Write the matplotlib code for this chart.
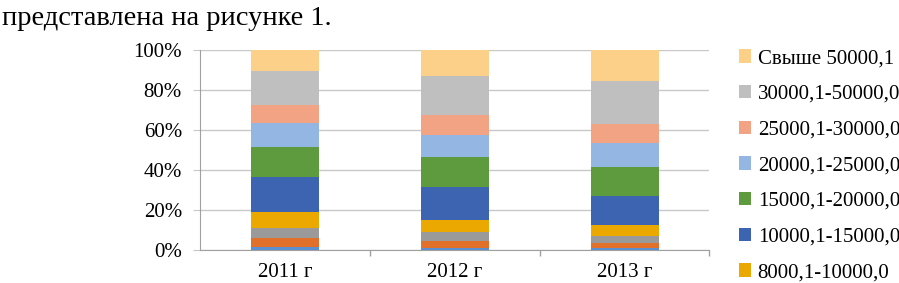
import matplotlib.pyplot as plt
import numpy as np

plt.rcParams['font.family'] = ['Liberation Serif', 'DejaVu Serif']

# shares of workers by wage group, %, bottom to top of each bar
years = ['2011 г', '2012 г', '2013 г']
groups = ['до 5000,0', '5000,1-6000,0', '6000,1-8000,0', '8000,1-10000,0',
          '10000,1-15000,0', '15000,1-20000,0', '20000,1-25000,0',
          '25000,1-30000,0', '30000,1-50000,0', 'Свыше 50000,1']
shares = [
    [1.7, 1.2, 1.0],
    [4.1, 3.5, 2.3],
    [5.4, 4.1, 3.7],
    [7.6, 6.2, 5.5],
    [17.9, 16.3, 14.7],
    [15.0, 15.0, 14.5],
    [11.6, 11.2, 11.6],
    [9.2, 10.0, 9.7],
    [17.2, 19.7, 21.7],
    [10.3, 12.8, 15.3],
]
colors = ['#5B8FCF', '#E0702A', '#9A9A9A', '#EBA900', '#3C64B0',
          '#5E9A3E', '#94B6E2', '#F2A383', '#BFBFBF', '#FDD08A']

fig = plt.figure(figsize=(8.99, 2.83), dpi=100)
ax = fig.add_axes([0.2225, 0.1166, 0.5667, 0.7067])

x = np.arange(len(years))
bottom = np.zeros(len(years))
bars = []
for name, vals, c in zip(groups, shares, colors):
    vals = np.array(vals)
    b = ax.bar(x, vals, 0.4, bottom=bottom, color=c, label=name, zorder=3)
    bars.append(b)
    bottom += vals

ax.set_xlim(-0.5, 2.5)
ax.set_ylim(0, 100)
ax.set_yticks(range(0, 101, 20))
ax.set_yticklabels([f'{v}%' for v in range(0, 101, 20)])
ax.yaxis.grid(True, color='#C8C8C8', linewidth=1, zorder=0)
ax.set_xticks(x)
ax.set_xticklabels(years)
ax.set_xticks([0.5, 1.5, 2.5], minor=True)
ax.tick_params(axis='x', which='major', length=0, pad=9, labelsize=15)
ax.tick_params(axis='x', which='minor', length=4, color='#A0A0A0', width=1)
ax.tick_params(axis='y', length=5, color='#C8C8C8', pad=8, labelsize=15)
for s in ['top', 'right']:
    ax.spines[s].set_visible(False)
ax.spines['left'].set_color('#A0A0A0')
ax.spines['bottom'].set_color('#A0A0A0')

# legend: only the top seven entries fit on the picture
handles = bars[::-1][:7]
labels = groups[::-1][:7]
fig.legend(handles, labels, loc='upper left', bbox_to_anchor=(0.822, 0.826),
           frameon=False, fontsize=15, handlelength=0.6, handleheight=0.6,
           handletextpad=0.3, labelspacing=0.8, borderpad=0, borderaxespad=0)

fig.text(0.002, 0.912, 'представлена на рисунке 1.', fontsize=20.5, va='baseline')

fig.savefig('out.png', dpi=100)
